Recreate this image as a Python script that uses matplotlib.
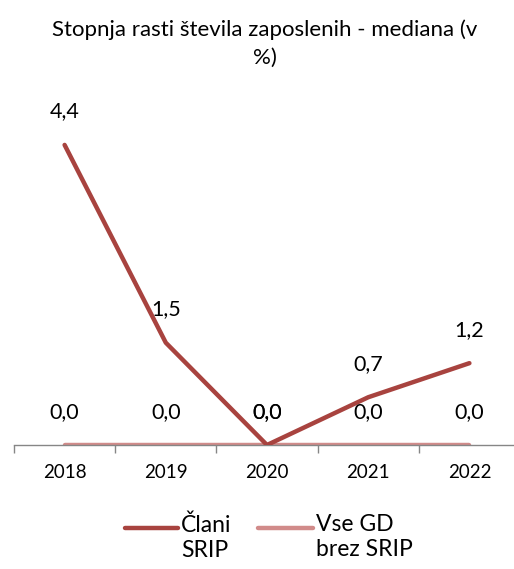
import matplotlib
matplotlib.use("Agg")
import matplotlib.pyplot as plt
from matplotlib.lines import Line2D

years = ["2018", "2019", "2020", "2021", "2022"]
series_names = ["Člani\nSRIP", "Vse GD\nbrez SRIP"]
clani = [4.4, 1.5, 0.0, 0.7, 1.2]
vse_gd = [0.0, 0.0, 0.0, 0.0, 0.0]
colors = ["#A8433F", "#D18B8A"]
title = "Stopnja rasti števila zaposlenih - mediana (v\n%)"

plt.rcParams['font.family'] = ['Lato', 'DejaVu Sans']
W, H = 514, 569
fig = plt.figure(figsize=(W / 100, H / 100), dpi=100)
ax = fig.add_axes([14 / W, 124 / H, 506 / W, 341 / H])

x = list(range(len(years)))
for vals, col, z in [(vse_gd, colors[1], 2), (clani, colors[0], 3)]:
    ax.plot(x, vals, color=col, lw=3.2, solid_capstyle='round', solid_joinstyle='round', zorder=z)
for vals in [vse_gd, clani]:
    for xi, v in zip(x, vals):
        ax.annotate(f"{v:.1f}".replace(".", ","), (xi, v), xytext=(0, 24),
                    textcoords='offset points', ha='center', va='center',
                    fontsize=15.5, color='#000000', zorder=5)

ax.set_xlim(-0.5, len(years) - 0.5)
ax.set_ylim(0, 5)
for s in ['top', 'right', 'left']:
    ax.spines[s].set_visible(False)
ax.spines['bottom'].set_color('#868686')
ax.spines['bottom'].set_linewidth(1.0)
ax.set_yticks([])
ax.set_xticks(x)
ax.set_xticklabels(years, fontsize=13.5)
ax.tick_params(axis='x', which='major', length=0, pad=14)
ax.set_xticks([i - 0.5 for i in range(len(years) + 1)], minor=True)
ax.tick_params(axis='x', which='minor', length=6, color='#868686', width=1.0)

fig.text(265 / W, 1 - 44 / H, title, ha='center', va='center', fontsize=16, linespacing=1.5)

# legend
leg_items = [(125, 178, 181), (258, 313, 316)]
for (x0, x1, tx), name, col in zip(leg_items, series_names, colors):
    fig.add_artist(Line2D([x0 / W, x1 / W], [1 - 528 / H, 1 - 528 / H], color=col, lw=3.2,
                          solid_capstyle='round', transform=fig.transFigure))
    fig.text(tx / W, 1 - 514 / H, name, ha='left', va='top', fontsize=16.5, linespacing=1.25)

fig.savefig("out.png", dpi=100)
